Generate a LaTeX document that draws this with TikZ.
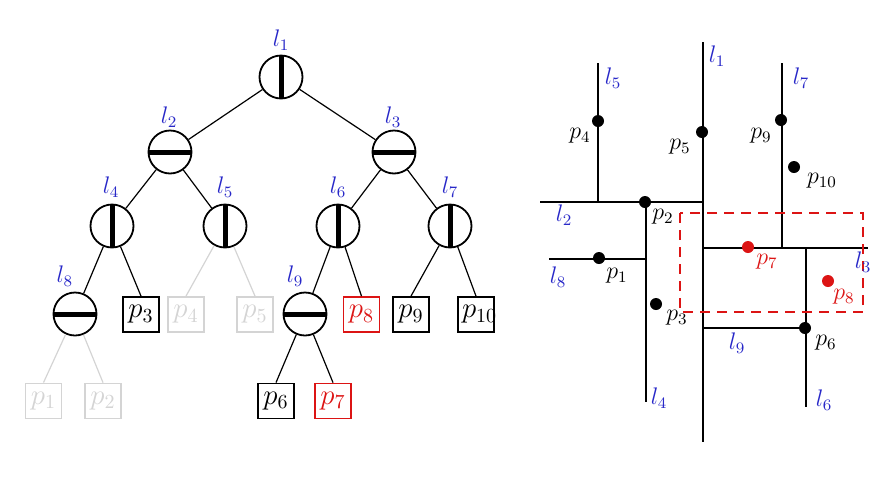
\documentclass[tikz,border=0pt]{standalone}
\usetikzlibrary{calc}
\definecolor{lblue}{RGB}{40,40,200}
\definecolor{pred}{RGB}{220,20,20}
\definecolor{lgray}{RGB}{212,212,212}
\tikzset{
  every node/.style={font=\normalsize},
  splitnode/.style={circle, draw, line width=0.9pt, minimum size=21.5pt, inner sep=0pt},
  vsplit/.style={splitnode, path picture={\draw[line width=2.5pt] (path picture bounding box.north) -- (path picture bounding box.south);}},
  hsplit/.style={splitnode, path picture={\draw[line width=2.5pt] (path picture bounding box.west) -- (path picture bounding box.east);}},
  leafbox/.style={draw, line width=0.9pt, minimum width=18pt, minimum height=17.5pt, inner sep=0pt, font=\Large},
  fadedbox/.style={leafbox, draw=lgray, text=lgray},
  redbox/.style={leafbox, draw=pred, text=pred},
  treeedge/.style={line width=0.6pt},
  fadededge/.style={line width=0.6pt, draw=lgray},
  llabel/.style={text=lblue, font=\large},
  rllabel/.style={text=lblue, font=\large},
  plabel/.style={text=black, font=\large},
  rlabel/.style={text=pred, font=\large},
  segline/.style={line width=0.9pt},
  dot/.style={circle, fill=black, inner sep=0pt, minimum size=6pt},
  reddot/.style={circle, fill=pred, inner sep=0pt, minimum size=6pt},
  window/.style={draw=pred, line width=0.9pt, dash pattern=on 5pt off 3.5pt}
}
\begin{document}
\begin{tikzpicture}[x=0.5pt,y=-0.5pt]
\useasboundingbox (0,0) rectangle (885,483);
% ---------- tree ----------
\node[vsplit] (n1) at (281,77) {};
\node[hsplit] (n2) at (170,152) {};
\node[hsplit] (n3) at (394,152) {};
\node[vsplit] (n4) at (112,226) {};
\node[vsplit] (n5) at (225,226) {};
\node[vsplit] (n6) at (338,226) {};
\node[vsplit] (n7) at (450,226) {};
\node[hsplit] (n8) at (75,314) {};
\node[hsplit] (n9) at (305,314) {};
\node[llabel] at (281,40) {$l_1$};
\node[llabel] at (169,117) {$l_2$};
\node[llabel] at (393,117) {$l_3$};
\node[llabel] at (111,187) {$l_4$};
\node[llabel] at (225,187) {$l_5$};
\node[llabel] at (338,187) {$l_6$};
\node[llabel] at (450,187) {$l_7$};
\node[llabel] at (65,276) {$l_8$};
\node[llabel] at (295,276) {$l_9$};
\node[leafbox] (b3) at (141,314.5) {$p_3$};
\node[fadedbox] (b4) at (186,314.5) {$p_4$};
\node[fadedbox] (b5) at (255,314.5) {$p_5$};
\node[redbox] (b8) at (361.5,314.5) {$p_8$};
\node[leafbox] (b9) at (411,314.5) {$p_9$};
\node[leafbox] (b10) at (476,314.5) {\makebox[14pt][l]{$p_{10}$}};
\node[fadedbox] (b1) at (43.5,401) {$p_1$};
\node[fadedbox] (b2) at (103,401) {$p_2$};
\node[leafbox] (b6) at (276,401) {$p_6$};
\node[redbox] (b7) at (333,401) {$p_7$};
\draw[treeedge] (n1) -- (n2);
\draw[treeedge] (n1) -- (n3);
\draw[treeedge] (n2) -- (n4);
\draw[treeedge] (n2) -- (n5);
\draw[treeedge] (n3) -- (n6);
\draw[treeedge] (n3) -- (n7);
\draw[treeedge] (n4) -- (n8);
\draw[treeedge] (n4) -- (b3.north);
\draw[fadededge] (n5) -- (b4.north);
\draw[fadededge] (n5) -- (b5.north);
\draw[treeedge] (n6) -- (n9);
\draw[treeedge] (n6) -- (b8.north);
\draw[treeedge] (n7) -- (b9.north);
\draw[treeedge] (n7) -- (b10.north);
\draw[fadededge] (n8) -- (b1.north);
\draw[fadededge] (n8) -- (b2.north);
\draw[treeedge] (n9) -- (b6.north);
\draw[treeedge] (n9) -- (b7.north);
% ---------- plane subdivision ----------
\draw[segline] (703,42) -- (703,442);   % l1
\draw[segline] (540,202) -- (703,202);  % l2
\draw[segline] (703,248) -- (868,248);  % l3
\draw[segline] (646,202) -- (646,402);  % l4
\draw[segline] (598,63) -- (598,202);   % l5
\draw[segline] (806,248) -- (806,407);  % l6
\draw[segline] (782,63) -- (782,248);   % l7
\draw[segline] (549,259) -- (646,259);  % l8
\draw[segline] (703,328) -- (806,328);  % l9
\draw[window] (680,213) rectangle (863,312);
\node[dot] (q4) at (598,121) {};
\node[dot] (q5) at (702,132) {};
\node[dot] (q9) at (781,120) {};
\node[dot] (q10) at (794,167) {};
\node[dot] (q2) at (645,202) {};
\node[dot] (q1) at (599,258) {};
\node[dot] (q3) at (656,304) {};
\node[reddot] (q7) at (748,247) {};
\node[reddot] (q8) at (828,281) {};
\node[dot] (q6) at (805,328) {};
\node[rllabel] at (717,56) {$l_1$};
\node[rllabel] at (613,78) {$l_5$};
\node[rllabel] at (801,78) {$l_7$};
\node[plabel] at (580,136) {$p_4$};
\node[plabel] at (680,147) {$p_5$};
\node[plabel] at (761,136) {$p_9$};
\node[plabel] at (822,181) {$p_{10}$};
\node[rllabel] at (564,215) {$l_2$};
\node[plabel] at (663,217) {$p_2$};
\node[rllabel] at (558,277) {$l_8$};
\node[plabel] at (617,276) {$p_1$};
\node[rlabel] at (767,262) {$p_7$};
\node[rllabel] at (863,262) {$l_3$};
\node[rlabel] at (844,297) {$p_8$};
\node[plabel] at (677,318) {$p_3$};
\node[rllabel] at (737,343) {$l_9$};
\node[plabel] at (826,343) {$p_6$};
\node[rllabel] at (659,398) {$l_4$};
\node[rllabel] at (824,400) {$l_6$};
\end{tikzpicture}
\end{document}
